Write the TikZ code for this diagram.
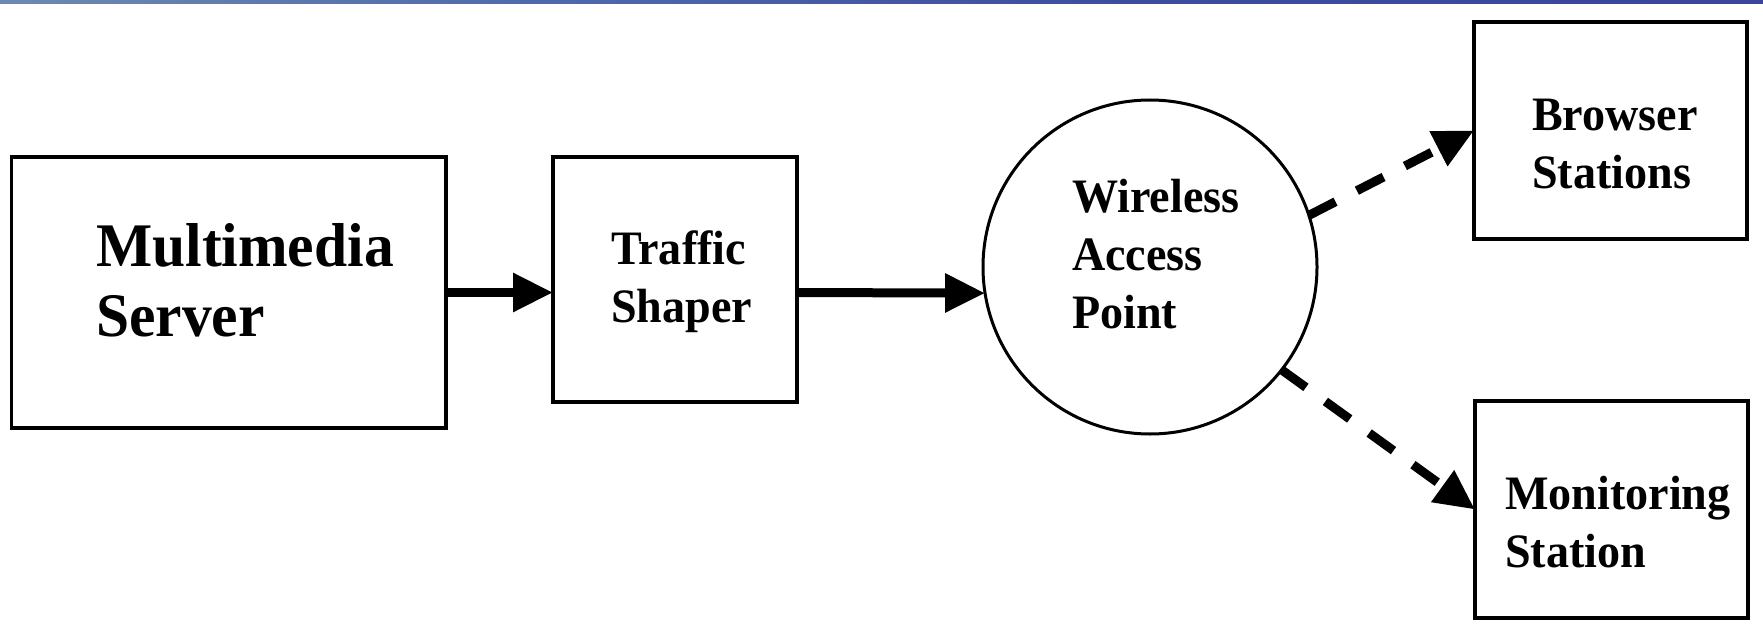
\documentclass[tikz,border=0pt]{standalone}
\usepackage{fontspec}
\setmainfont{Liberation Serif}[FakeStretch=0.96]
\usetikzlibrary{arrows.meta}

\definecolor{barA}{RGB}{200,220,190}
\definecolor{barB}{RGB}{125,155,175}
\definecolor{barC}{RGB}{80,105,172}
\definecolor{barD}{RGB}{62,76,158}
\definecolor{barE}{RGB}{54,60,148}
\pgfdeclarehorizontalshading{topbar}{100bp}{color(0bp)=(barA); color(17bp)=(barB); color(40bp)=(barC); color(57bp)=(barD); color(100bp)=(barE)}

\tikzset{
  box/.style={draw, rectangle, line width=3.5pt, inner sep=0pt, outer sep=0pt},
  hub/.style={draw, circle, line width=3pt, inner sep=0pt, outer sep=0pt, minimum size=334pt},
  bigtext/.style={anchor=base west, inner sep=0pt, font=\bfseries\fontsize{62}{70}\selectfont},
  smalltext/.style={anchor=base west, inner sep=0pt, font=\bfseries\fontsize{48}{58}\selectfont},
  flow/.style={line width=9pt, -{Triangle[length=40pt,width=37pt]}},
  wireless/.style={flow, dash pattern=on 30pt off 24pt},
}
\newcommand\rows[1]{\begin{tabular}[t]{@{}l@{}}#1\end{tabular}}

\begin{document}
\begin{tikzpicture}[x=1pt,y=-1pt]
\useasboundingbox (0,0) rectangle (1763,631);
% gradient strip along the top edge
\shade[shading=topbar] (0,0) rectangle (1763,4);

% boxes and the access point
\node[box, minimum width=434.5pt, minimum height=271pt] (ms)  at (228.75,292.5) {};
\node[box, minimum width=244pt,   minimum height=245pt] (ts)  at (675,279.5) {};
\node[hub] (wap) at (1150,267) {};
\node[box, minimum width=273pt, minimum height=217pt] (bs)  at (1610.5,130.5) {};
\node[box, minimum width=273pt, minimum height=217pt] (mon) at (1611.5,509.5) {};

% labels
\node[bigtext]   (mslbl)  at (96,266)   {\rows{Multimedia\\Server}};
\node[smalltext] (tslbl)  at (611,264)  {\rows{Traffic\\Shaper}};
\node[smalltext] (waplbl) at (1072,212) {\rows{Wireless\\Access\\Point}};
\node[smalltext] (bslbl)  at (1532,131) {\rows{Browser\\Stations}};
\node[smalltext] (monlbl) at (1505,509) {\rows{Monitoring\\Station}};

% wired path
\draw[flow] (ms.east) -- (ms.east -| ts.west);
\draw[flow] (ts.east |- ms.east) -- (wap.189);

% wireless links
\draw[wireless] (wap.18) -- (bs.west);
\draw[wireless] (wap.-38) -- (mon.west);
\end{tikzpicture}
\end{document}
